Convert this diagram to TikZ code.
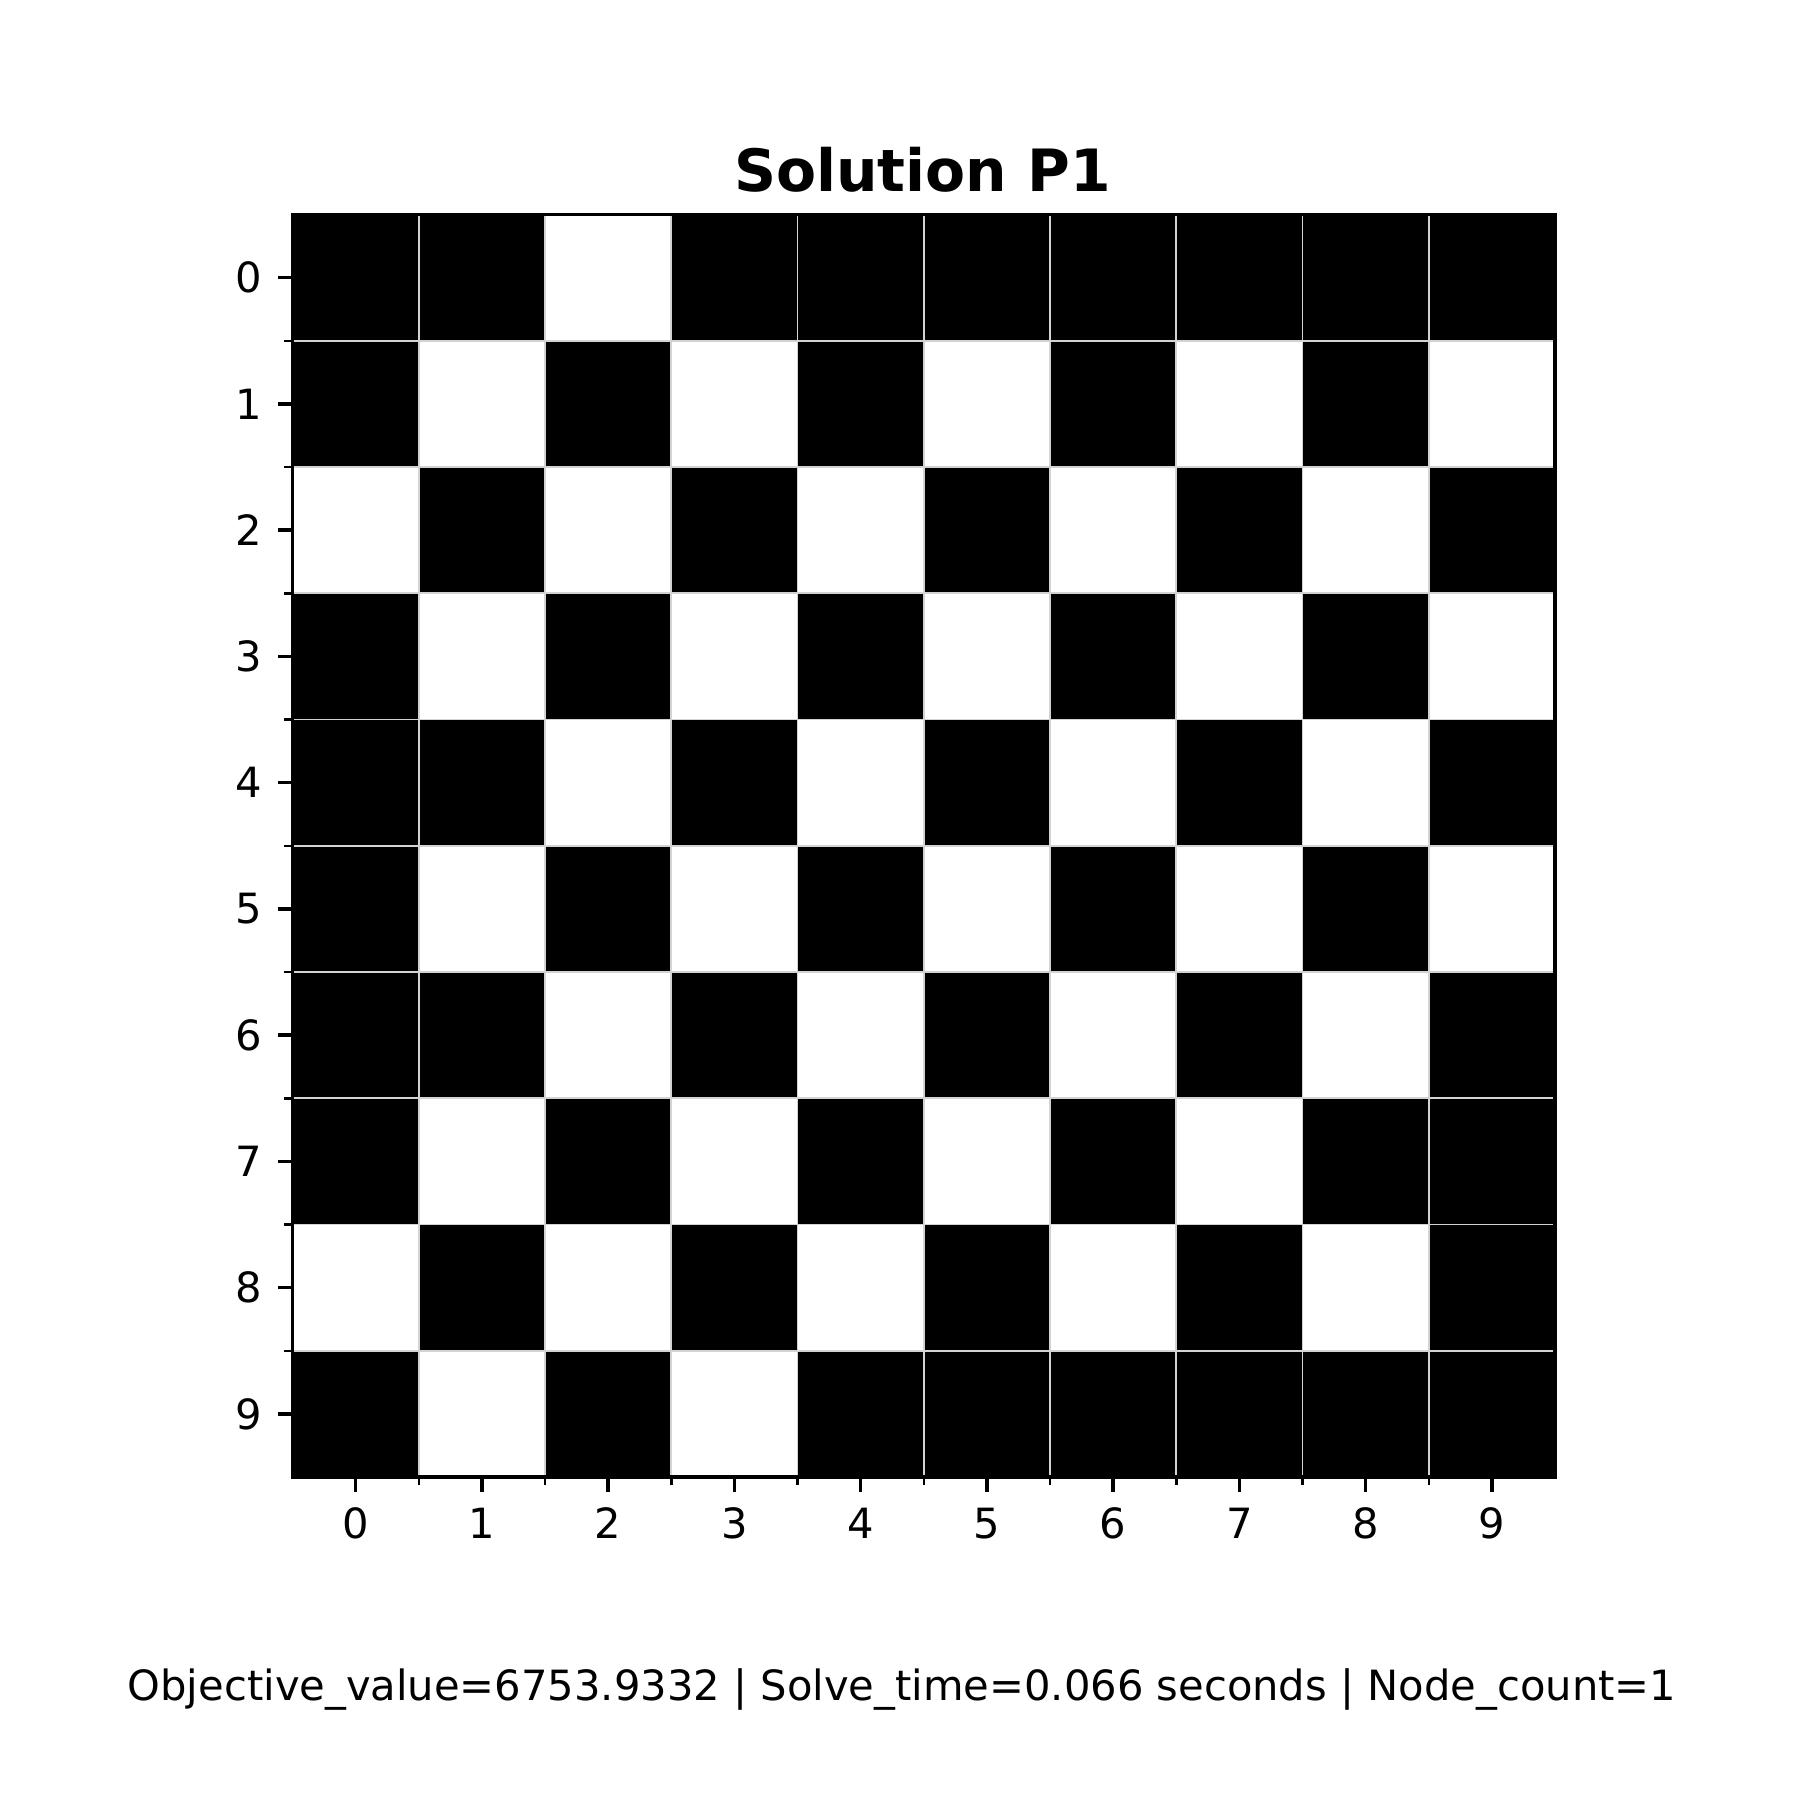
\documentclass[tikz,border=0pt]{standalone}
\usepackage{fontspec}
\setmainfont{DejaVu Sans}
\tikzset{
  ticklab/.style={inner sep=0pt, font=\fontsize{10}{12}\selectfont},
  majortick/.style={line width=0.8pt},
  minortick/.style={line width=0.6pt},
  gridline/.style={draw=gridgray, line width=0.4pt},
}
\definecolor{gridgray}{RGB}{211,211,211}
\begin{document}
\begin{tikzpicture}[x=0.24pt,y=-0.24pt]
\useasboundingbox (0,0) rectangle (1800,1800);
\pgfmathsetmacro{\L}{292.5}
\pgfmathsetmacro{\T}{214.5}
\pgfmathsetmacro{\C}{126.25}
\pgfmathsetmacro{\R}{\L+10*\C}
\pgfmathsetmacro{\B}{\T+10*\C}
% black background of the board
\fill[black] (\L,\T) rectangle (\R,\B);
% white cells (row/col)
\foreach \r/\c in {0/2,
  1/1,1/3,1/5,1/7,1/9,
  2/0,2/2,2/4,2/6,2/8,
  3/1,3/3,3/5,3/7,3/9,
  4/2,4/4,4/6,4/8,
  5/1,5/3,5/5,5/7,5/9,
  6/2,6/4,6/6,6/8,
  7/1,7/3,7/5,7/7,
  8/0,8/2,8/4,8/6,8/8,
  9/1,9/3}{
  \fill[white] (\L+\c*\C,\T+\r*\C) rectangle (\L+\c*\C+\C,\T+\r*\C+\C);
}
% grid lines
\foreach \i in {1,...,9}{
  \draw[gridline] (\L+\i*\C,\T) -- (\L+\i*\C,\B);
  \draw[gridline] (\L,\T+\i*\C) -- (\R,\T+\i*\C);
}
% frame
\draw[black, line width=0.8pt] (\L,\T) rectangle (\R,\B);
% ticks and labels
\foreach \i in {0,...,9}{
  \draw[majortick] (\L+\i*\C+0.5*\C,\B) -- ++(0,14.6);
  \draw[majortick] (\L,\T+\i*\C+0.5*\C) -- ++(-14.6,0);
  \node[ticklab, anchor=north] (xl\i) at (\L+\i*\C+0.5*\C,\B+30) {\i};
  \node[ticklab, anchor=east] (yl\i) at (\L-29.2,\T+\i*\C+0.5*\C) {\i};
}
\foreach \i in {1,...,9}{
  \draw[minortick] (\L+\i*\C,\B) -- ++(0,8.3);
  \draw[minortick] (\L,\T+\i*\C) -- ++(-8.3,0);
}
% title
\node[inner sep=0pt, anchor=base, font=\fontsize{14}{17}\bfseries] (title) at (922.5,191.7) {Solution P1};
% footer
\node[inner sep=0pt, anchor=base, font=\fontsize{10}{12}\selectfont] (footer) at (902,1700)
  {Objective\_value=6753.9332 | Solve\_time=0.066 seconds | Node\_count=1};
\end{tikzpicture}
\end{document}
